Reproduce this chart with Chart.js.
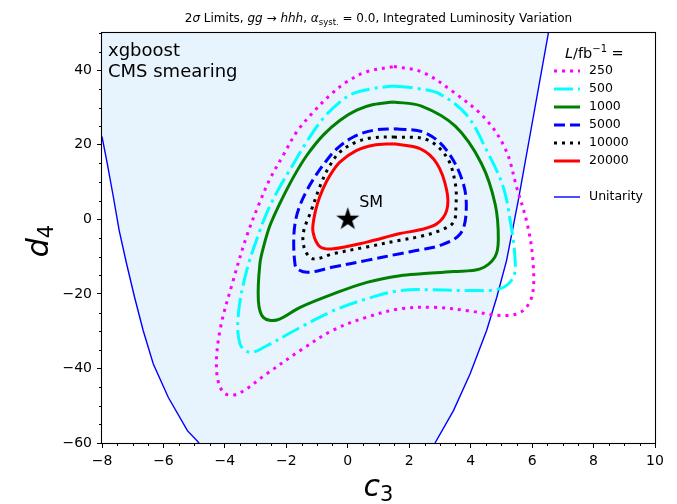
<!DOCTYPE html>
<html>
<head>
<meta charset="utf-8">
<script src="https://cdn.jsdelivr.net/npm/chart.js@4.4.1/dist/chart.umd.min.js"></script>
<style>
  html, body { margin: 0; padding: 0; background: #fff; }
  #wrap { width: 677px; height: 504px; }
</style>
</head>
<body>
<div id="wrap"><canvas id="chart" width="677" height="504"></canvas></div>
<script>
// axis ranges and ticks
const xRange = [-8, 10];
const yRange = [-60, 50];
const xTicks = [-8, -6, -4, -2, 0, 2, 4, 6, 8, 10];
const yTicks = [-60, -40, -20, 0, 20, 40];
const xMinorStep = 0.5;
const yMinorStep = 5;

// 2 sigma contours (c3, d4), clockwise from the top
const lumiLabels = ["250", "500", "1000", "5000", "10000", "20000"];
const lumi250 = [[1.5,41.0],[2.4,39.6],[3.4,34.4],[4.5,26.8],[5.15,18.5],[5.5,8.5],[5.85,-1.5],[6.03,-11.5],[6.0,-20.5],[5.65,-24.8],[5.0,-25.8],[3.9,-24.5],[2.8,-23.6],[1.7,-24.0],[0.6,-26.3],[-0.5,-29.8],[-1.55,-35.2],[-2.65,-41.5],[-3.6,-46.9],[-4.05,-46.4],[-4.27,-40.6],[-4.16,-29.8],[-3.73,-16.4],[-3.29,-4.5],[-2.86,4.7],[-2.53,10.9],[-2.1,17.2],[-1.66,23.5],[-1.12,28.8],[-0.58,33.3],[-0.03,36.9],[0.62,39.6]];
const lumi500 = [[1.5,35.8],[2.35,35.0],[3.0,33.6],[3.87,28.0],[4.55,18.0],[5.06,8.7],[5.3,-1.0],[5.44,-10.1],[5.39,-15.5],[4.96,-18.6],[4.0,-19.1],[2.8,-18.9],[1.7,-19.1],[0.62,-21.3],[-0.47,-24.5],[-1.55,-29.0],[-2.64,-33.9],[-3.18,-35.7],[-3.51,-33.4],[-3.56,-25.3],[-3.29,-13.7],[-2.86,-3.0],[-2.6,2.4],[-2.24,8.3],[-1.82,14.2],[-1.34,20.8],[-0.8,27.1],[-0.25,31.5],[0.18,33.8],[0.83,35.1]];
const lumi1000 = [[1.48,31.5],[2.4,30.4],[3.5,25.0],[4.35,15.0],[4.8,4.0],[4.9,-5.5],[4.79,-10.1],[4.31,-13.3],[3.44,-14.0],[2.4,-14.6],[1.7,-15.1],[0.62,-16.9],[-0.47,-20.0],[-1.55,-23.6],[-2.31,-27.0],[-2.75,-26.3],[-2.91,-21.8],[-2.86,-11.9],[-2.73,-7.0],[-2.53,-1.6],[-2.21,4.3],[-1.75,11.6],[-1.33,17.2],[-0.8,22.6],[-0.25,26.6],[0.29,29.3],[0.83,30.8]];
const lumi5000 = [[1.55,24.3],[2.5,23.3],[3.22,18.5],[3.76,9.6],[3.85,1.5],[3.65,-4.0],[3.0,-7.0],[2.35,-8.2],[1.7,-9.2],[0.62,-11.0],[-0.47,-12.8],[-1.3,-14.2],[-1.65,-13.3],[-1.72,-11.9],[-1.76,-5.6],[-1.7,-0.3],[-1.555,3.8],[-1.33,7.8],[-1.04,11.8],[-0.71,15.6],[-0.35,19.0],[0.18,22.1],[0.83,23.9]];
const lumi10000 = [[1.5,22.1],[2.57,21.4],[3.22,16.7],[3.5,9.6],[3.52,3.3],[3.44,-0.8],[3.0,-3.0],[2.35,-4.6],[1.7,-5.6],[0.62,-7.4],[-0.47,-9.2],[-1.12,-10.6],[-1.39,-8.3],[-1.45,-3.8],[-1.21,1.9],[-0.85,10.0],[-0.58,14.5],[-0.25,18.1],[0.29,20.8],[0.83,21.9]];
const lumi20000 = [[1.48,20.3],[2.35,19.0],[2.9,15.0],[3.22,7.8],[3.22,2.4],[2.9,-1.2],[2.35,-2.8],[1.7,-3.8],[0.62,-6.1],[-0.47,-7.9],[-0.9,-7.4],[-1.13,-3.5],[-1.1,0.3],[-0.985,4.3],[-0.8,8.3],[-0.58,11.8],[-0.25,15.4],[0.29,18.5],[0.83,19.9]];

// unitarity boundary, bottom to top
const unitarityLeft = [[-4.84,-60],[-5.22,-56.7],[-5.84,-47.8],[-6.33,-38.8],[-6.66,-29.8],[-6.94,-20.9],[-7.2,-11.9],[-7.44,-3.0],[-7.63,6.0],[-7.83,15.0],[-8.0,22.2]];
const unitarityRight = [[2.84,-60],[3.44,-51.3],[3.98,-41.5],[4.52,-29.8],[4.85,-20.9],[5.17,-11.0],[5.55,5.1],[6.05,28.0],[6.53,50]];

const smPoint = [0, 0];

const contourStyles = [
  { color: "#ff00ff", dash: [3, 5] },
  { color: "#00ffff", dash: [19, 5, 3, 5] },
  { color: "#008000", dash: [] },
  { color: "#0000ff", dash: [11, 5] },
  { color: "#000000", dash: [3, 5] },
  { color: "#ff0000", dash: [] }
];
const contourData = [lumi250, lumi500, lumi1000, lumi5000, lumi10000, lumi20000];

Chart.defaults.font.family = "'DejaVu Sans', sans-serif";
Chart.defaults.color = "#000";

function toPoints(list) {
  return list.map(p => ({ x: p[0], y: p[1] }));
}

function closed(list) {
  return toPoints(list.concat([list[0]]));
}

function fmt(v) {
  return v < 0 ? "\u2212" + Math.abs(v) : String(v);
}

function makeStar(r) {
  const size = Math.ceil(r * 2 + 2);
  const c = document.createElement("canvas");
  c.width = size;
  c.height = size;
  const g = c.getContext("2d");
  g.translate(size / 2, size / 2);
  g.beginPath();
  for (let i = 0; i < 10; i++) {
    const rad = i % 2 ? r * 0.382 : r;
    const a = -Math.PI / 2 + i * Math.PI / 5;
    if (i === 0) g.moveTo(rad * Math.cos(a), rad * Math.sin(a));
    else g.lineTo(rad * Math.cos(a), rad * Math.sin(a));
  }
  g.closePath();
  g.fillStyle = "#000";
  g.fill();
  return c;
}

function drawRich(ctx, parts, x, y, align) {
  let total = 0;
  parts.forEach(p => {
    ctx.font = p.font;
    p.w = ctx.measureText(p.text).width;
    total += p.w;
  });
  let cx = align === "center" ? x - total / 2 : x;
  ctx.textAlign = "left";
  ctx.textBaseline = "alphabetic";
  parts.forEach(p => {
    ctx.font = p.font;
    ctx.fillText(p.text, cx, y + (p.dy || 0));
    cx += p.w;
  });
}

const FONT = "'DejaVu Sans'";

const datasets = [];

// shaded region allowed by unitarity
datasets.push({
  data: toPoints(unitarityLeft.concat([[xRange[0], yRange[1]]], unitarityRight.slice().reverse())),
  showLine: true,
  fill: "shape",
  backgroundColor: "rgb(232,244,253)",
  borderColor: "rgba(0,0,0,0)",
  borderWidth: 0,
  pointRadius: 0,
  tension: 0,
  order: 5
});

[unitarityLeft, unitarityRight].forEach(curve => {
  datasets.push({
    data: toPoints(curve),
    showLine: true,
    fill: false,
    borderColor: "#0000ff",
    borderWidth: 1.4,
    pointRadius: 0,
    tension: 0,
    order: 4
  });
});

contourData.forEach((curve, i) => {
  datasets.push({
    label: lumiLabels[i],
    data: closed(curve),
    showLine: true,
    fill: false,
    borderColor: contourStyles[i].color,
    borderDash: contourStyles[i].dash,
    borderCapStyle: "butt",
    borderWidth: 3,
    pointRadius: 0,
    tension: 0.35,
    order: 2
  });
});

datasets.push({
  data: [{ x: smPoint[0], y: smPoint[1] }],
  showLine: false,
  pointStyle: makeStar(12.2),
  pointRadius: 12,
  order: 0
});

const decorPlugin = {
  id: "decor",
  afterDraw(chart) {
    const ctx = chart.ctx;
    const area = chart.chartArea;
    const xs = chart.scales.x;
    const ys = chart.scales.y;
    ctx.save();

    // minor ticks
    ctx.strokeStyle = "#000";
    ctx.lineWidth = 1;
    ctx.beginPath();
    for (let v = xRange[0]; v <= xRange[1] + 1e-9; v += xMinorStep) {
      if (xTicks.some(t => Math.abs(t - v) < 1e-9)) continue;
      const px = Math.round(xs.getPixelForValue(v)) + 0.5;
      ctx.moveTo(px, area.bottom);
      ctx.lineTo(px, area.bottom + 3);
    }
    for (let v = yRange[0]; v <= yRange[1] + 1e-9; v += yMinorStep) {
      if (yTicks.some(t => Math.abs(t - v) < 1e-9)) continue;
      const py = Math.round(ys.getPixelForValue(v)) + 0.5;
      ctx.moveTo(area.left, py);
      ctx.lineTo(area.left - 3, py);
    }
    ctx.stroke();

    // frame
    ctx.lineWidth = 1.1;
    ctx.strokeStyle = "#000";
    ctx.strokeRect(Math.round(area.left) - 0.5, Math.round(area.top) - 0.5, Math.round(area.right - area.left) + 1, Math.round(area.bottom - area.top) + 1);

    ctx.fillStyle = "#000";

    // title
    const tf = "12px " + FONT;
    const tfi = "italic 12px " + FONT;
    drawRich(ctx, [
      { text: "2", font: tf },
      { text: "\u03c3", font: tfi },
      { text: " Limits, ", font: tf },
      { text: "gg", font: tfi },
      { text: " \u2192 ", font: tf },
      { text: "hhh", font: tfi },
      { text: ", ", font: tf },
      { text: "\u03b1", font: tfi },
      { text: "syst.", font: "8.5px " + FONT, dy: 3 },
      { text: " = 0.0, Integrated Luminosity Variation", font: tf }
    ], (area.left + area.right) / 2, 22, "center");

    // annotations
    ctx.font = "18px " + FONT;
    ctx.fillText("xgboost", 108, 56);
    ctx.fillText("CMS smearing", 108, 77);
    ctx.font = "16px " + FONT;
    ctx.fillText("SM", xs.getPixelForValue(0.37), ys.getPixelForValue(3.2));

    // axis titles
    drawRich(ctx, [
      { text: "c", font: "italic 30px " + FONT },
      { text: "3", font: "21px " + FONT, dy: 5 }
    ], (area.left + area.right) / 2, 496, "center");
    ctx.save();
    ctx.translate(48, (area.top + area.bottom) / 2 + 3);
    ctx.rotate(-Math.PI / 2);
    drawRich(ctx, [
      { text: "d", font: "italic 30px " + FONT },
      { text: "4", font: "21px " + FONT, dy: 5 }
    ], 0, 0, "center");
    ctx.restore();

    // legend
    drawRich(ctx, [
      { text: "L", font: "italic 14.5px " + FONT },
      { text: "/fb", font: "14.5px " + FONT },
      { text: "\u22121", font: "10px " + FONT, dy: -6 },
      { text: " =", font: "14.5px " + FONT }
    ], 565, 58);
    const rowY = [71, 89, 107, 125, 143, 161];
    ctx.font = "12.5px " + FONT;
    lumiLabels.forEach((lab, i) => {
      ctx.save();
      ctx.strokeStyle = contourStyles[i].color;
      ctx.lineWidth = 3;
      ctx.lineCap = "butt";
      ctx.setLineDash(contourStyles[i].dash);
      ctx.beginPath();
      ctx.moveTo(554, rowY[i]);
      ctx.lineTo(580, rowY[i]);
      ctx.stroke();
      ctx.restore();
      ctx.textBaseline = "middle";
      ctx.fillText(lab, 589, rowY[i]);
    });
    ctx.strokeStyle = "#0000ff";
    ctx.lineWidth = 1.4;
    ctx.beginPath();
    ctx.moveTo(554, 197);
    ctx.lineTo(580, 197);
    ctx.stroke();
    ctx.textBaseline = "middle";
    ctx.fillText("Unitarity", 589, 197);

    ctx.restore();
  }
};

new Chart(document.getElementById("chart"), {
  type: "scatter",
  data: { datasets },
  options: {
    responsive: false,
    animation: false,
    layout: { padding: { top: 33, right: 22, left: 0, bottom: 0 } },
    plugins: {
      legend: { display: false },
      title: { display: false },
      tooltip: { enabled: false }
    },
    scales: {
      x: {
        type: "linear",
        min: xRange[0],
        max: xRange[1],
        afterBuildTicks: s => { s.ticks = xTicks.map(v => ({ value: v })); },
        afterFit: s => { s.height = 61; },
        grid: { drawOnChartArea: false, drawTicks: true, tickLength: 5, tickColor: "#000", tickWidth: 1 },
        border: { display: false },
        ticks: { color: "#000", font: { size: 14 }, padding: 5, maxRotation: 0, autoSkip: false, callback: v => fmt(v) }
      },
      y: {
        type: "linear",
        min: yRange[0],
        max: yRange[1],
        afterBuildTicks: s => { s.ticks = yTicks.map(v => ({ value: v })); },
        afterFit: s => { s.width = 102; },
        grid: { drawOnChartArea: false, drawTicks: true, tickLength: 5, tickColor: "#000", tickWidth: 1 },
        border: { display: false },
        ticks: { color: "#000", font: { size: 14 }, padding: 5, autoSkip: false, callback: v => fmt(v) }
      }
    }
  },
  plugins: [decorPlugin]
});
</script>
</body>
</html>
